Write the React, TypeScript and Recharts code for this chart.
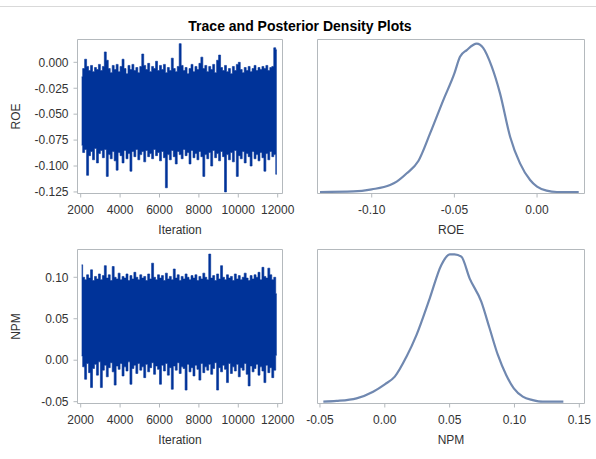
import React from 'react';
import { ComposedChart, LineChart, Area, Line, XAxis, YAxis, ReferenceArea } from 'recharts';

// ---------- data ----------
const ITER_BINS: number[] = Array.from({ length: 100 }, (_, i) => 2050 + 100 * i);
const ITER_TICKS = [2000, 4000, 6000, 8000, 10000, 12000];

const ROE_HI = [
  -0.014, -0.006, 0.003, -0.004, -0.008, -0.003, -0.009, -0.005, -0.007, -0.002,
  -0.008, -0.004, 0.010, 0.002, -0.006, -0.010, -0.003, -0.007, -0.002, -0.009,
  -0.004, 0.003, -0.006, -0.011, -0.003, -0.007, -0.002, -0.008, -0.005, -0.010,
  -0.004, 0.008, -0.003, -0.007, -0.001, -0.009, -0.004, -0.006, 0.001, -0.008,
  -0.003, -0.007, -0.002, -0.010, -0.005, -0.008, 0.004, -0.006, -0.009, -0.004,
  0.018, -0.003, -0.008, -0.005, -0.011, -0.006, -0.002, -0.009, -0.004, -0.007,
  -0.001, 0.005, -0.006, -0.003, -0.009, -0.004, -0.007, -0.002, -0.010, 0.002,
  0.007, -0.005, -0.008, -0.003, -0.009, -0.006, -0.011, -0.004, -0.008, -0.002,
  0.000, -0.007, -0.010, -0.005, -0.008, -0.004, -0.009, -0.006, -0.003, -0.008,
  -0.005, -0.007, -0.004, -0.006, -0.003, -0.008, -0.005, -0.004, 0.014, 0.012,
];
const ROE_LO = [
  -0.080, -0.087, -0.084, -0.109, -0.090, -0.086, -0.094, -0.083, -0.097, -0.088,
  -0.085, -0.092, -0.084, -0.110, -0.089, -0.093, -0.086, -0.095, -0.104, -0.087,
  -0.090, -0.097, -0.085, -0.093, -0.088, -0.105, -0.086, -0.091, -0.084, -0.094,
  -0.089, -0.086, -0.096, -0.085, -0.091, -0.088, -0.093, -0.084, -0.090, -0.087,
  -0.095, -0.086, -0.092, -0.121, -0.089, -0.094, -0.085, -0.091, -0.098, -0.086,
  -0.089, -0.093, -0.084, -0.090, -0.087, -0.098, -0.085, -0.092, -0.088, -0.094,
  -0.086, -0.091, -0.110, -0.089, -0.093, -0.087, -0.100, -0.085, -0.092, -0.088,
  -0.095, -0.086, -0.091, -0.125, -0.089, -0.094, -0.087, -0.096, -0.085, -0.110,
  -0.090, -0.093, -0.086, -0.097, -0.088, -0.091, -0.100, -0.086, -0.093, -0.089,
  -0.095, -0.087, -0.092, -0.105, -0.088, -0.094, -0.086, -0.091, -0.089, -0.108,
];
const NPM_HI = [
  0.115, 0.100, 0.097, 0.103, 0.099, 0.109, 0.096, 0.101, 0.098, 0.104,
  0.097, 0.102, 0.114, 0.099, 0.103, 0.096, 0.113, 0.100, 0.098, 0.105,
  0.097, 0.101, 0.099, 0.104, 0.096, 0.102, 0.098, 0.106, 0.100, 0.097,
  0.103, 0.099, 0.101, 0.096, 0.104, 0.098, 0.117, 0.100, 0.097, 0.103,
  0.099, 0.102, 0.096, 0.105, 0.098, 0.101, 0.097, 0.110, 0.099, 0.103,
  0.096, 0.101, 0.098, 0.104, 0.100, 0.097, 0.102, 0.099, 0.103, 0.096,
  0.101, 0.098, 0.105, 0.100, 0.097, 0.128, 0.099, 0.102, 0.096, 0.104,
  0.098, 0.114, 0.100, 0.097, 0.103, 0.099, 0.101, 0.096, 0.104, 0.098,
  0.102, 0.097, 0.100, 0.105, 0.099, 0.096, 0.102, 0.098, 0.103, 0.100,
  0.106, 0.097, 0.112, 0.101, 0.099, 0.111, 0.103, 0.097, 0.100, 0.080,
];
const NPM_LO = [
  0.005, -0.008, -0.023, -0.004, -0.015, -0.033, -0.010, -0.005, -0.018, -0.002,
  -0.033, -0.012, -0.006, -0.020, -0.009, -0.003, -0.014, -0.030, -0.007, -0.011,
  -0.004, -0.019, -0.008, -0.013, -0.002, -0.029, -0.010, -0.006, -0.016, -0.004,
  -0.012, -0.008, -0.021, -0.005, -0.014, -0.009, -0.003, -0.017, -0.007, -0.011,
  -0.029, -0.006, -0.013, -0.004, -0.018, -0.009, -0.035, -0.007, -0.012, -0.003,
  -0.016, -0.008, -0.010, -0.036, -0.005, -0.014, -0.009, -0.019, -0.006, -0.011,
  -0.024, -0.004, -0.015, -0.008, -0.012, -0.005, -0.017, -0.010, -0.003, -0.036,
  -0.009, -0.014, -0.006, -0.011, -0.027, -0.004, -0.016, -0.008, -0.013, -0.005,
  -0.020, -0.009, -0.012, -0.004, -0.017, -0.031, -0.007, -0.014, -0.010, -0.005,
  -0.018, -0.008, -0.013, -0.027, -0.006, -0.015, -0.009, -0.021, -0.012, 0.006,
];

// posterior density (relative height, peak = 1)
const ROE_DENS_X = [
  -0.1313, -0.1111, -0.1000, -0.0889, -0.0849, -0.0788, -0.0718, -0.0647, -0.0567, -0.0500,
  -0.0466, -0.0425, -0.0365, -0.0325, -0.0274, -0.0224, -0.0163, -0.0103, -0.0042, 0.0000,
  0.0058, 0.0120, 0.0252,
];
const ROE_DENS_Y = [
  0.000, 0.004, 0.018, 0.047, 0.070, 0.126, 0.209, 0.395, 0.620, 0.800,
  0.912, 0.957, 1.000, 0.970, 0.845, 0.665, 0.373, 0.193, 0.081, 0.036,
  0.009, 0.000, 0.000,
];
const NPM_DENS_X = [
  -0.0474, -0.0372, -0.0218, -0.0090, 0.0000, 0.0077, 0.0167, 0.0244, 0.0346, 0.0436,
  0.0500, 0.0538, 0.0590, 0.0654, 0.0744, 0.0808, 0.0872, 0.0936, 0.0995, 0.1064,
  0.1141, 0.1218, 0.1377,
];
const NPM_DENS_Y = [
  0.000, 0.005, 0.023, 0.068, 0.118, 0.170, 0.305, 0.452, 0.700, 0.928,
  1.000, 1.000, 0.984, 0.837, 0.679, 0.498, 0.317, 0.181, 0.090, 0.034,
  0.011, 0.000, 0.000,
];
const ROE_TICKS = [-0.125, -0.1, -0.075, -0.05, -0.025, 0];
const NPM_TICKS = [-0.05, 0, 0.05, 0.1];
const ROE_DENS_TICKS = [-0.1, -0.05, 0];
const NPM_DENS_TICKS = [-0.05, 0, 0.05, 0.1, 0.15];

// ---------- styling ----------
const FONT = '"Liberation Sans", Arial, sans-serif';
const FRAME = '#b4b9bd';
const TXT = '#333333';
const TRACE = '#003399';
const DENS = '#7088b0';

const tickStyle = { fontSize: 12, fill: TXT, fontFamily: FONT };

const xLabel = (text: string) => (props: any) => {
  const vb = props.viewBox || {};
  return (
    <text x={vb.x + vb.width / 2} y={vb.y + 40.8} textAnchor="middle" fontSize={12} fill={TXT} fontFamily={FONT}>
      {text}
    </text>
  );
};
const yLabel = (text: string) => (props: any) => {
  const vb = props.viewBox || {};
  const cy = vb.y + vb.height / 2;
  return (
    <text x={20} y={cy} transform={`rotate(-90 20 ${cy})`} textAnchor="middle" fontSize={12} fill={TXT} fontFamily={FONT}>
      {text}
    </text>
  );
};

type TraceProps = {
  top: number; height: number; xAxisH: number;
  hi: number[]; lo: number[]; yDomain: [number, number]; yTicks: number[]; digits: number; label: string;
};
const X_TRACE: [number, number] = [1838, 12244];

function TracePanel({ top, height, xAxisH, hi, lo, yDomain, yTicks, digits, label }: TraceProps) {
  const rows = ITER_BINS.map((it, i) => ({ iter: it, range: [lo[i], hi[i]] }));
  return (
    <div style={{ position: 'absolute', left: 0, top }}>
      <ComposedChart width={300} height={height} data={rows} margin={{ top: 39.5, right: 17.5, left: 0, bottom: 0 }}>
        <XAxis dataKey="iter" type="number" domain={X_TRACE} allowDataOverflow ticks={ITER_TICKS} height={xAxisH}
          axisLine={false} tickSize={4} tickMargin={7.5} tickLine={{ stroke: FRAME }} tick={tickStyle} interval={0}
          label={{ content: xLabel('Iteration') }} />
        <YAxis type="number" domain={yDomain} allowDataOverflow ticks={yTicks} width={77.5}
          axisLine={false} tickSize={4} tickMargin={5} tickLine={{ stroke: FRAME }} tick={tickStyle} interval={0}
          tickFormatter={(v: number) => v.toFixed(digits)}
          label={{ content: yLabel(label) }} />
        <Area dataKey="range" type="step" fill={TRACE} fillOpacity={1} stroke={TRACE} strokeWidth={0.6}
          dot={false} activeDot={false} isAnimationActive={false} />
        <ReferenceArea x1={X_TRACE[0]} x2={X_TRACE[1]} y1={yDomain[0]} y2={yDomain[1]} fill="none" stroke={FRAME} ifOverflow="visible" />
      </ComposedChart>
    </div>
  );
}

type DensProps = {
  top: number; height: number; xAxisH: number;
  xs: number[]; ys: number[]; xDomain: [number, number]; yDomain: [number, number]; xTicks: number[]; label: string;
};
function DensityPanel({ top, height, xAxisH, xs, ys, xDomain, yDomain, xTicks, label }: DensProps) {
  const rows = xs.map((x, i) => ({ x, h: ys[i] }));
  return (
    <div style={{ position: 'absolute', left: 300, top }}>
      <LineChart width={296} height={height} data={rows} margin={{ top: 39.5, right: 11.5, left: 17.5, bottom: 0 }}>
        <XAxis dataKey="x" type="number" domain={xDomain} allowDataOverflow ticks={xTicks} height={xAxisH}
          axisLine={false} tickSize={4} tickMargin={7.5} tickLine={{ stroke: FRAME }} tick={tickStyle} interval={0}
          tickFormatter={(v: number) => v.toFixed(2)}
          label={{ content: xLabel(label) }} />
        <YAxis type="number" domain={yDomain} allowDataOverflow hide />
        <Line dataKey="h" type="monotone" stroke={DENS} strokeWidth={2.2} dot={false} isAnimationActive={false} />
        <ReferenceArea x1={xDomain[0]} x2={xDomain[1]} y1={yDomain[0]} y2={yDomain[1]} fill="none" stroke={FRAME} ifOverflow="visible" />
      </LineChart>
    </div>
  );
}

export default function App() {
  return (
    <div style={{ position: 'absolute', left: 0, top: 0, width: 596, height: 459, background: '#fff', overflow: 'hidden', fontFamily: FONT }}>
      <svg width={596} height={459} style={{ position: 'absolute', left: 0, top: 0 }}>
        <line x1={0} x2={596} y1={6.5} y2={6.5} stroke="#d9d9d9" strokeWidth={1} />
        <text x={300} y={30.5} textAnchor="middle" fontSize={14} fontWeight="bold" fill="#000" fontFamily={FONT}>
          Trace and Posterior Density Plots
        </text>
      </svg>
      <TracePanel top={0} height={250} xAxisH={56.5} hi={ROE_HI} lo={ROE_LO}
        yDomain={[-0.1265, 0.022]} yTicks={ROE_TICKS} digits={3} label="ROE" />
      <TracePanel top={210} height={249} xAxisH={55.5} hi={NPM_HI} lo={NPM_LO}
        yDomain={[-0.0522, 0.1335]} yTicks={NPM_TICKS} digits={2} label="NPM" />
      <DensityPanel top={0} height={250} xAxisH={56.5} xs={ROE_DENS_X} ys={ROE_DENS_Y}
        xDomain={[-0.1328, 0.0287]} yDomain={[-0.0101, 1.0283]} xTicks={ROE_DENS_TICKS} label="ROE" />
      <DensityPanel top={210} height={249} xAxisH={55.5} xs={NPM_DENS_X} ys={NPM_DENS_Y}
        xDomain={[-0.0519, 0.154]} yDomain={[-0.0122, 1.0326]} xTicks={NPM_DENS_TICKS} label="NPM" />
    </div>
  );
}
